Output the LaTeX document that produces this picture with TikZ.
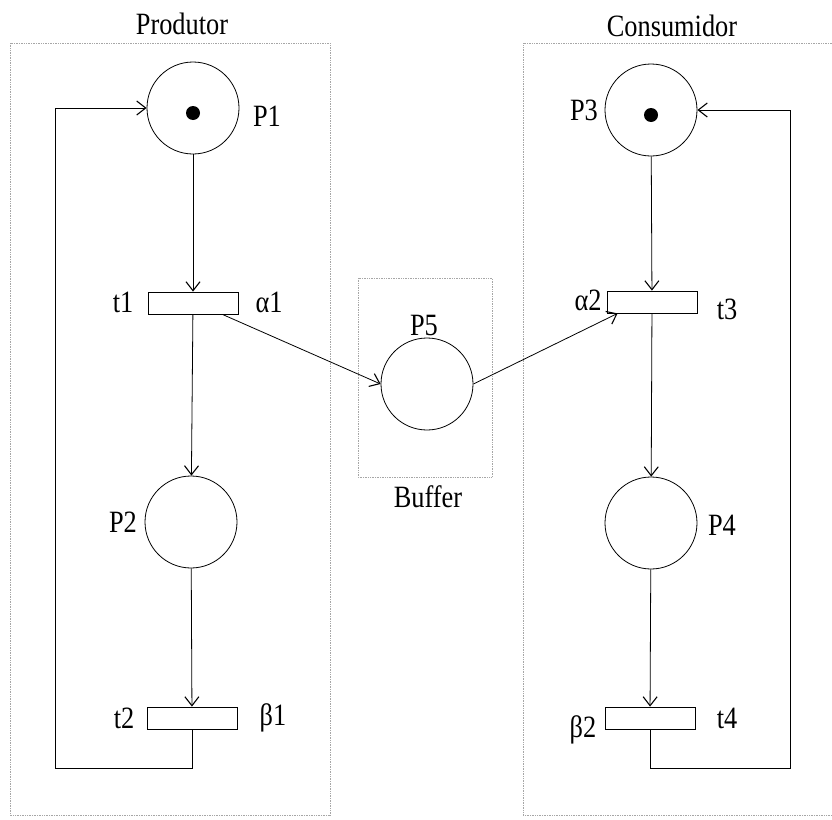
\documentclass[tikz,border=0pt]{standalone}
\usepackage{fontspec}
\setmainfont{Liberation Serif}[FakeStretch=0.85]
\usetikzlibrary{arrows.meta,positioning}
\tikzset{
  place/.style={circle, draw, line width=.8pt, minimum size=92pt, inner sep=0pt},
  trans/.style={draw, line width=.8pt, minimum width=90pt, minimum height=22pt, inner sep=0pt},
  arc/.style={-{Straight Barb[length=9pt,width=14pt,line width=1.1pt]}, line width=.8pt},
  group/.style={draw=gray!70, densely dotted, line width=.7pt},
  lbl/.style={font=\fontsize{31}{33}\selectfont, inner sep=0pt}
}
\begin{document}
\begin{tikzpicture}[x=1pt, y=-1pt]
  \useasboundingbox (0,0) rectangle (832,819);
  % groups
  \draw[group] (10,43) rectangle (330,815);
  \draw[group] (832,43) -- (523,43) -- (523,815) -- (832,815);
  \draw[group] (358,278) rectangle (492,477);
  \node[lbl] (produtor) at (182,24) {Produtor};
  \node[lbl] (consumidor) at (672,26) {Consumidor};
  \node[lbl] (buffer) at (428,497) {Buffer};
  % places and transitions
  \node[place] (p1) at (193,108) {};
  \node[trans] (t1) at (193,303) {};
  \node[place] (p2) at (191,522) {};
  \node[trans] (t2) at (192,718) {};
  \node[place] (p5) at (427,384) {};
  \node[place] (p3) at (651,110) {};
  \node[trans] (t3) at (652,302) {};
  \node[place] (p4) at (651,523) {};
  \node[trans] (t4) at (650,718) {};
  \fill ([yshift=-5pt]p1.center) circle (7);
  \fill ([yshift=-5pt]p3.center) circle (7);
  % labels
  \node[lbl] (p1lbl) at (267,116) {P1};
  \node[lbl] (t1lbl) at (123,302) {t1};
  \node[lbl] (a1lbl) at (269,302) {α1};
  \node[lbl] (p2lbl) at (123,522) {P2};
  \node[lbl] (t2lbl) at (124,718) {t2};
  \node[lbl] (b1lbl) at (273,718) {β1};
  \node[lbl] (p5lbl) at (424,325) {P5};
  \node[lbl] (p3lbl) at (584,110) {P3};
  \node[lbl] (a2lbl) at (588,300) {α2};
  \node[lbl] (t3lbl) at (727,309) {t3};
  \node[lbl] (p4lbl) at (722,525) {P4};
  \node[lbl] (b2lbl) at (583,730) {β2};
  \node[lbl] (t4lbl) at (727,718) {t4};
  % arcs
  \coordinate (lloop) at (55,768);
  \coordinate (rloop) at (790,768);
  \draw[arc] (p1) -- (t1);
  \draw[arc] (t1) -- (p2);
  \draw[arc] (p2) -- (t2);
  \draw[arc] (t2.south) |- (lloop) |- (p1.west);
  \draw[arc] ([xshift=-16pt]t1.south east) -- (p5.west);
  \draw[arc] (p5.east) -- ([xshift=11pt]t3.south west);
  \draw[arc] (p3) -- (t3);
  \draw[arc] (t3) -- (p4);
  \draw[arc] (p4) -- (t4);
  \draw[arc] (t4.south) |- (rloop) |- (p3.east);
\end{tikzpicture}
\end{document}
